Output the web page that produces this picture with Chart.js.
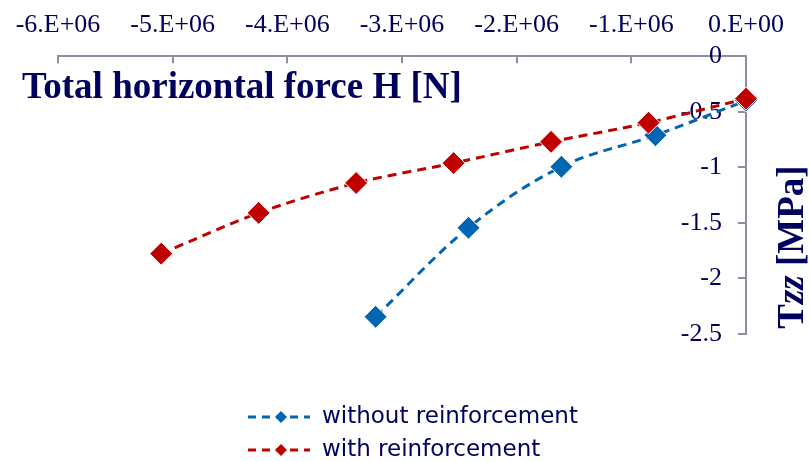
<!DOCTYPE html>
<html>
<head>
<meta charset="utf-8">
<script src="https://cdn.jsdelivr.net/npm/chart.js@4.4.0/dist/chart.umd.min.js"></script>
<style>
  body { margin: 0; background: #fff; }
</style>
</head>
<body>
<canvas id="canvas" width="810" height="462"></canvas>
<script>
// data
var seriesNames = ['without reinforcement', 'with reinforcement'];
var forceWithout = [-3.23e6, -2.42e6, -1.61e6, -0.79e6, 0];
var tzzWithout = [-2.345, -1.544, -0.995, -0.711, -0.40];
var forceWith = [-5.10e6, -4.25e6, -3.40e6, -2.55e6, -1.70e6, -0.85e6, 0];
var tzzWith = [-1.777, -1.410, -1.141, -0.962, -0.771, -0.598, -0.382];

var xTicks = [-6e6, -5e6, -4e6, -3e6, -2e6, -1e6, 0];
var xTickLabels = ['-6.E+06', '-5.E+06', '-4.E+06', '-3.E+06', '-2.E+06', '-1.E+06', '0.E+00'];
var yTicks = [0, -0.5, -1, -1.5, -2, -2.5];
var yTickLabels = ['0', '-0.5', '-1', '-1.5', '-2', '-2.5'];

var navy = '#00005e';
var axisGrey = '#8e8ea2';
var blue = '#0066b2';
var red = '#c00000';

function toPoints(xs, ys) {
    var pts = [];
    for (var i = 0; i < xs.length; i++) {
        pts.push({x: xs[i], y: ys[i]});
    }
    return pts;
}

// tick marks pointing into the plot, y labels sitting left of the right-hand axis
var tickMarks = {
    id: 'tickMarks',
    beforeDatasetsDraw: function(chart) {
        var ctx = chart.ctx;
        var area = chart.chartArea;
        var sx = chart.scales.x, sy = chart.scales.y;
        ctx.save();
        ctx.strokeStyle = axisGrey;
        ctx.lineWidth = 2;
        ctx.beginPath();
        sx.ticks.forEach(function(t) {
            var px = Math.round(sx.getPixelForValue(t.value));
            ctx.moveTo(px, area.top);
            ctx.lineTo(px, area.top + 7);
        });
        sy.ticks.forEach(function(t) {
            var py = Math.round(sy.getPixelForValue(t.value));
            ctx.moveTo(area.right - 8, py);
            ctx.lineTo(area.right, py);
        });
        ctx.stroke();

        ctx.fillStyle = navy;
        ctx.font = '26px "Liberation Serif"';
        ctx.textAlign = 'right';
        ctx.textBaseline = 'middle';
        sy.ticks.forEach(function(t, i) {
            ctx.fillText(yTickLabels[i], area.right - 24, sy.getPixelForValue(t.value));
        });
        ctx.restore();
    }
};

// axis titles
var axisTitles = {
    id: 'axisTitles',
    afterDraw: function(chart) {
        var ctx = chart.ctx;
        var area = chart.chartArea;
        ctx.save();
        ctx.fillStyle = navy;
        ctx.textBaseline = 'alphabetic';
        ctx.textAlign = 'left';
        ctx.font = 'bold 37px "Liberation Serif"';
        ctx.fillText('Total horizontal force H [N]', area.left - 36, area.top + 42);

        // Tzz [MPa], read bottom to top
        var parts = [
            {t: 'T', f: 'bold 37px "Liberation Serif"'},
            {t: 'zz', f: 'italic bold 37px "Liberation Serif"'},
            {t: ' [MPa]', f: 'bold 37px "Liberation Serif"'}
        ];
        var total = 0;
        parts.forEach(function(p) { ctx.font = p.f; p.w = ctx.measureText(p.t).width; total += p.w; });
        ctx.translate(area.right + 57, (area.top + area.bottom) / 2 + 52);
        ctx.rotate(-Math.PI / 2);
        var x = -total / 2;
        parts.forEach(function(p) { ctx.font = p.f; ctx.fillText(p.t, x, 0); x += p.w; });
        ctx.restore();
    }
};

// legend stacked in two rows under the plot
var stackedLegend = {
    id: 'stackedLegend',
    afterDraw: function(chart) {
        var ctx = chart.ctx;
        var area = chart.chartArea;
        var x0 = area.left + 190;
        chart.data.datasets.forEach(function(ds, i) {
            var y = area.bottom + 83 + i * 33;
            ctx.save();
            ctx.strokeStyle = ds.borderColor;
            ctx.lineWidth = 3;
            ctx.setLineDash([8, 6]);
            ctx.beginPath();
            ctx.moveTo(x0, y);
            ctx.lineTo(x0 + 62, y);
            ctx.stroke();
            ctx.setLineDash([]);
            ctx.fillStyle = ds.backgroundColor;
            Chart.helpers.drawPoint(ctx, {pointStyle: 'rectRot', radius: 6, borderWidth: 0}, x0 + 33, y);
            ctx.fillStyle = navy;
            ctx.font = '23px "DejaVu Sans"';
            ctx.textBaseline = 'middle';
            ctx.textAlign = 'left';
            ctx.fillText(seriesNames[i], x0 + 74, y);
            ctx.restore();
        });
    }
};

var tickFont = {family: '"Liberation Serif"', size: 26};

var ctx = document.getElementById('canvas').getContext('2d');
window.myChart = new Chart(ctx, {
    type: 'line',
    data: {
        datasets: [{
            label: seriesNames[0],
            data: toPoints(forceWithout, tzzWithout),
            borderColor: blue,
            backgroundColor: blue,
            pointBackgroundColor: blue,
            pointBorderColor: '#ffffff',
            pointBorderWidth: 1,
            pointStyle: 'rectRot',
            pointRadius: 11.5,
            borderWidth: 3,
            borderDash: [9, 6],
            tension: 0.35,
            clip: false,
            order: 1
        }, {
            label: seriesNames[1],
            data: toPoints(forceWith, tzzWith),
            borderColor: red,
            backgroundColor: red,
            pointBackgroundColor: red,
            pointBorderColor: '#ffffff',
            pointBorderWidth: 1,
            pointStyle: 'rectRot',
            pointRadius: 11.5,
            borderWidth: 3,
            borderDash: [9, 6],
            tension: 0.3,
            clip: false,
            order: 0
        }]
    },
    options: {
        responsive: false,
        animation: false,
        layout: {padding: {left: 58, right: 64, top: -5, bottom: 128}},
        plugins: {
            legend: {display: false},
            tooltip: {enabled: false}
        },
        scales: {
            x: {
                type: 'linear',
                position: 'top',
                min: -6e6,
                max: 0,
                afterBuildTicks: function(axis) {
                    axis.ticks = xTicks.map(function(v) { return {value: v}; });
                },
                ticks: {
                    callback: function(v, i) { return xTickLabels[i]; },
                    font: tickFont,
                    color: navy,
                    padding: 15,
                    maxRotation: 0,
                    autoSkip: false
                },
                grid: {display: false, drawTicks: false},
                border: {display: true, color: axisGrey, width: 2}
            },
            y: {
                type: 'linear',
                position: 'right',
                min: -2.5,
                max: 0,
                afterBuildTicks: function(axis) {
                    axis.ticks = yTicks.map(function(v) { return {value: v}; });
                },
                ticks: {display: false},
                grid: {display: false, drawTicks: false},
                border: {display: true, color: axisGrey, width: 2}
            }
        }
    },
    plugins: [tickMarks, axisTitles, stackedLegend]
});
</script>
</body>
</html>
